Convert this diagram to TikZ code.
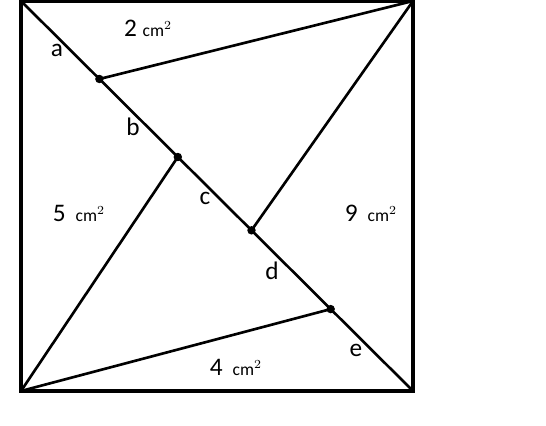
\documentclass[tikz,border=0pt]{standalone}
\usepackage{fontspec}
\setmainfont{Carlito}
\usetikzlibrary{positioning}
\usetikzlibrary{calc}

\begin{document}
\begin{tikzpicture}[x=0.02cm, y=-0.02cm,
        pt/.style={circle, fill, inner sep=1.7pt},
        area/.style={inner sep=0pt}]
            \useasboundingbox (0,0) rectangle (546,425);

            \coordinate (tl) at (21,1);
            \coordinate (tr) at (413,1);
            \coordinate (br) at (413,391);
            \coordinate (bl) at (21,391);

            \node[pt] (p_1) at ($(tl)!0.2!(br)$) {};
            \node[pt] (p_2) at ($(tl)!0.4!(br)$) {};
            \node[pt] (p_3) at ($(tl)!0.588!(br)$) {};
            \node[pt] (p_4) at ($(tl)!0.79!(br)$) {};

            \draw[-, line width=1.9pt] (tl) -- (tr) -- (br) -- (bl) -- cycle;
            \draw[-, line width=1.5pt] (tl) -- (br);
            \draw[-, line width=1.5pt] (p_1.center) -- (tr);
            \draw[-, line width=1.5pt] (p_3.center) -- (tr);
            \draw[-, line width=1.5pt] (p_2.center) -- (bl);
            \draw[-, line width=1.5pt] (p_4.center) -- (bl);

            \node (a) at (57,50) {\Large a};
            \node (b) at (133,127) {\Large b};
            \node (c) at (205,198) {\Large c};
            \node (d) at (272,271) {\Large d};
            \node (e) at (356,350) {\Large e};

            \node[area] (A_2) at (148,28) {\Large 2 {\normalsize cm$^2$}};
            \node[area] (A_5) at (79,213) {\Large 5\, {\normalsize cm$^2$}};
            \node[area] (A_9) at (371,213) {\Large 9\, {\normalsize cm$^2$}};
            \node[area] (A_4) at (236,367) {\Large 4\, {\normalsize cm$^2$}};
        \end{tikzpicture}
\end{document}
